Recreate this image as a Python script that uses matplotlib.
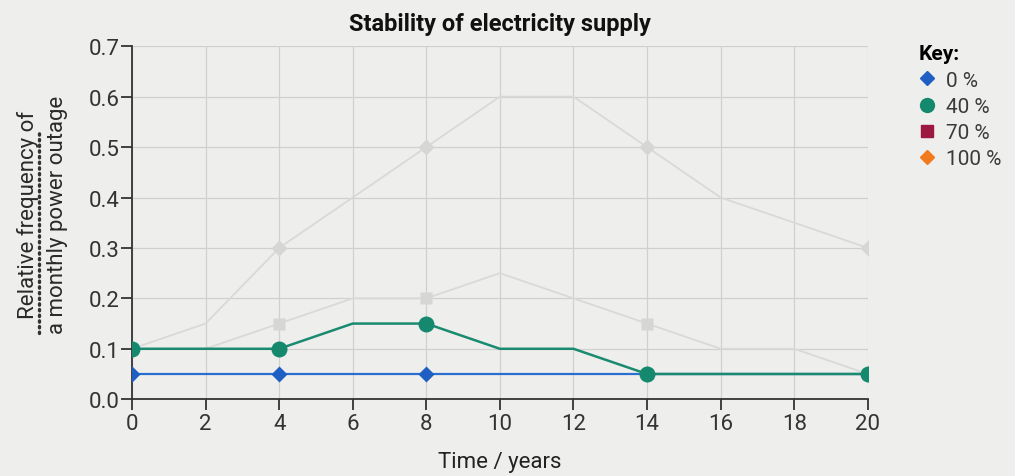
import matplotlib.pyplot as plt
from matplotlib.lines import Line2D

plt.rcParams["font.family"] = ["Roboto", "DejaVu Sans"]

years = [0, 2, 4, 6, 8, 10, 12, 14, 16, 18, 20]
marked = [0, 2, 4, 7, 10]  # indices with markers: 0, 4, 8, 14, 20 years

share_0 = [0.05, 0.05, 0.05, 0.05, 0.05, 0.05, 0.05, 0.05, 0.05, 0.05, 0.05]
share_40 = [0.10, 0.10, 0.10, 0.15, 0.15, 0.10, 0.10, 0.05, 0.05, 0.05, 0.05]
share_70 = [0.10, 0.10, 0.15, 0.20, 0.20, 0.25, 0.20, 0.15, 0.10, 0.10, 0.05]
share_100 = [0.10, 0.15, 0.30, 0.40, 0.50, 0.60, 0.60, 0.50, 0.40, 0.35, 0.30]

key_labels = ["0 %", "40 %", "70 %", "100 %"]
key_colors = ["#1f5fc4", "#14896d", "#9c1840", "#f07a1c"]
key_markers = ["D", "o", "s", "D"]

bg = "#eeeeec"
fig = plt.figure(figsize=(10.15, 4.77), dpi=100, facecolor=bg)
ax = fig.add_axes([0.130, 0.161, 0.725, 0.740], facecolor=bg)

faded = "#d9d9d7"
ax.plot(years, share_100, color=faded, lw=1.3, marker="D", ms=8,
        markevery=marked, mfc="#d6d6d4", mec="none", zorder=2)
ax.plot(years, share_70, color=faded, lw=1.3, marker="s", ms=9,
        markevery=marked, mfc="#d6d6d4", mec="none", zorder=2)
ax.plot(years, share_0, color="#2a6fd0", lw=1.6, marker="D", ms=8,
        markevery=marked, mfc=key_colors[0], mec="none", zorder=3)
ax.plot(years, share_40, color="#1a8a70", lw=1.8, marker="o", ms=11.5,
        markevery=marked, mfc=key_colors[1], mec="none", zorder=4)

ax.set_xlim(0, 20)
ax.set_ylim(0, 0.7)
ax.set_xticks(range(0, 21, 2))
ax.set_yticks([i / 10 for i in range(8)])
ax.set_yticklabels([f"{i / 10:.1f}" for i in range(8)])
ax.grid(True, color="#d0d0ce", lw=0.9)
ax.set_axisbelow(True)
for s in ["top", "right"]:
    ax.spines[s].set_visible(False)
for s in ["left", "bottom"]:
    ax.spines[s].set_color("#333333")
    ax.spines[s].set_linewidth(1.3)
    ax.spines[s].set_clip_on(False)
ax.tick_params(axis="both", direction="out", length=8, width=1.3,
               color="#333333", labelsize=16, labelcolor="#333333")
ax.tick_params(axis="x", pad=2)
ax.tick_params(axis="y", pad=1)

ax.set_xlabel("Time / years", fontsize=16, color="#222222", labelpad=12)
ax.set_ylabel("Relative frequency of\na monthly power outage", fontsize=16,
              color="#2a2a2a", linespacing=1.5)
ax.yaxis.set_label_coords(-0.087, 0.525)
ax.set_title("Stability of electricity supply", fontsize=17,
             fontweight="bold", color="#111111", pad=12)

# dotted underline under "Relative frequency"
fig.add_artist(Line2D([0.0385, 0.0385], [0.30, 0.72], transform=fig.transFigure,
                      color="#333333", lw=2.4, ls=(0, (0.4, 1.3)),
                      solid_capstyle="round", dash_capstyle="round"))

handles = [Line2D([], [], ls="none", marker=m, color=c, ms=s)
           for m, c, s in zip(key_markers, key_colors, [7, 10, 8, 7])]
leg = fig.legend(handles, key_labels, title="Key:", loc="upper left",
                 bbox_to_anchor=(0.905, 0.905), frameon=False, fontsize=15,
                 handlelength=0.8, handletextpad=0.5, labelspacing=0.35,
                 borderaxespad=0, borderpad=0)
leg.get_title().set_fontweight("bold")
leg.get_title().set_fontsize(15)
leg._legend_box.align = "left"
for t in leg.get_texts():
    t.set_color("#3a3a3a")

fig.savefig("out.png", dpi=100, facecolor=bg)
